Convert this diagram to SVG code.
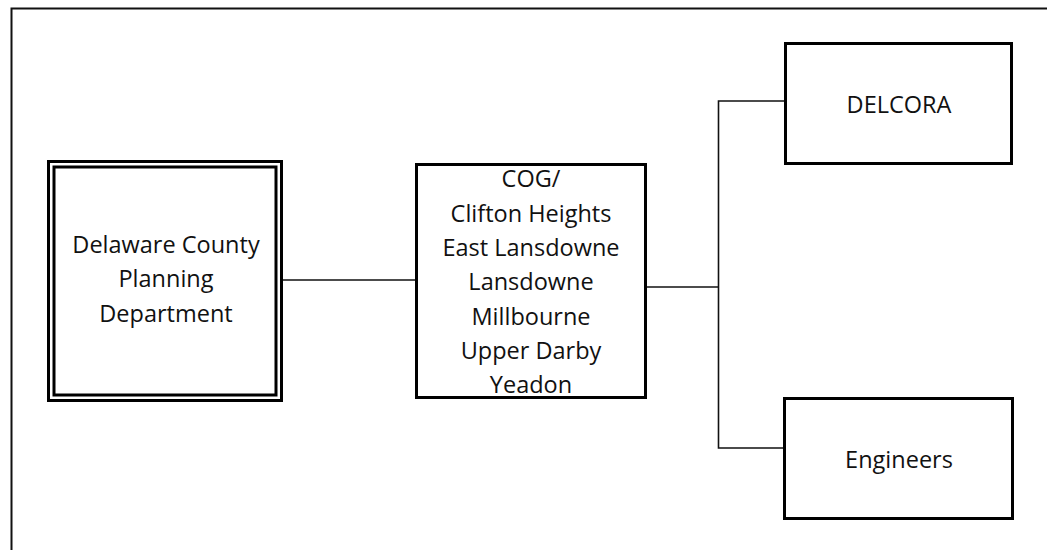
<svg xmlns="http://www.w3.org/2000/svg" width="1047" height="550" viewBox="0 0 1047 550">
  <style>
    .frame { fill: none; stroke: #111; stroke-width: 2; }
    .box { fill: #fff; stroke: #000; stroke-width: 3; }
    .inner { fill: none; stroke: #000; stroke-width: 3; }
    .link { fill: none; stroke: #111; stroke-width: 1.6; }
    .label { font-family: "Open Sans", "Noto Sans", sans-serif; font-size: 23.5px; fill: #111; text-anchor: middle; }
  </style>
  <rect width="1047" height="550" fill="#fff"/>
  <!-- page frame, running off the right and bottom edges -->
  <rect class="frame" x="11.5" y="8.5" width="1060" height="560"/>

  <g id="connectors">
    <line class="link" x1="282" y1="280" x2="416" y2="280"/>
    <line class="link" x1="646" y1="287" x2="718.5" y2="287"/>
    <polyline class="link" points="785,101 718.5,101 718.5,448 784,448"/>
  </g>

  <g id="planning">
    <rect class="box" x="48.5" y="161.5" width="233" height="239"/>
    <rect class="inner" x="54" y="167" width="222" height="228"/>
    <text class="label" x="166" y="253">Delaware County</text>
    <text class="label" x="166" y="287">Planning</text>
    <text class="label" x="166" y="321.5">Department</text>
  </g>

  <g id="cog">
    <rect class="box" x="416.5" y="164.5" width="229" height="233"/>
    <text class="label" x="531" y="187">COG/</text>
    <text class="label" x="531" y="221.5">Clifton Heights</text>
    <text class="label" x="531" y="256">East Lansdowne</text>
    <text class="label" x="531" y="290">Lansdowne</text>
    <text class="label" x="531" y="324.5">Millbourne</text>
    <text class="label" x="531" y="359">Upper Darby</text>
    <text class="label" x="531" y="393">Yeadon</text>
  </g>

  <g id="delcora">
    <rect class="box" x="785.5" y="43.5" width="226" height="120"/>
    <text class="label" x="899" y="113">DELCORA</text>
  </g>

  <g id="engineers">
    <rect class="box" x="784.5" y="398.5" width="228" height="120"/>
    <text class="label" x="899" y="468">Engineers</text>
  </g>
</svg>
